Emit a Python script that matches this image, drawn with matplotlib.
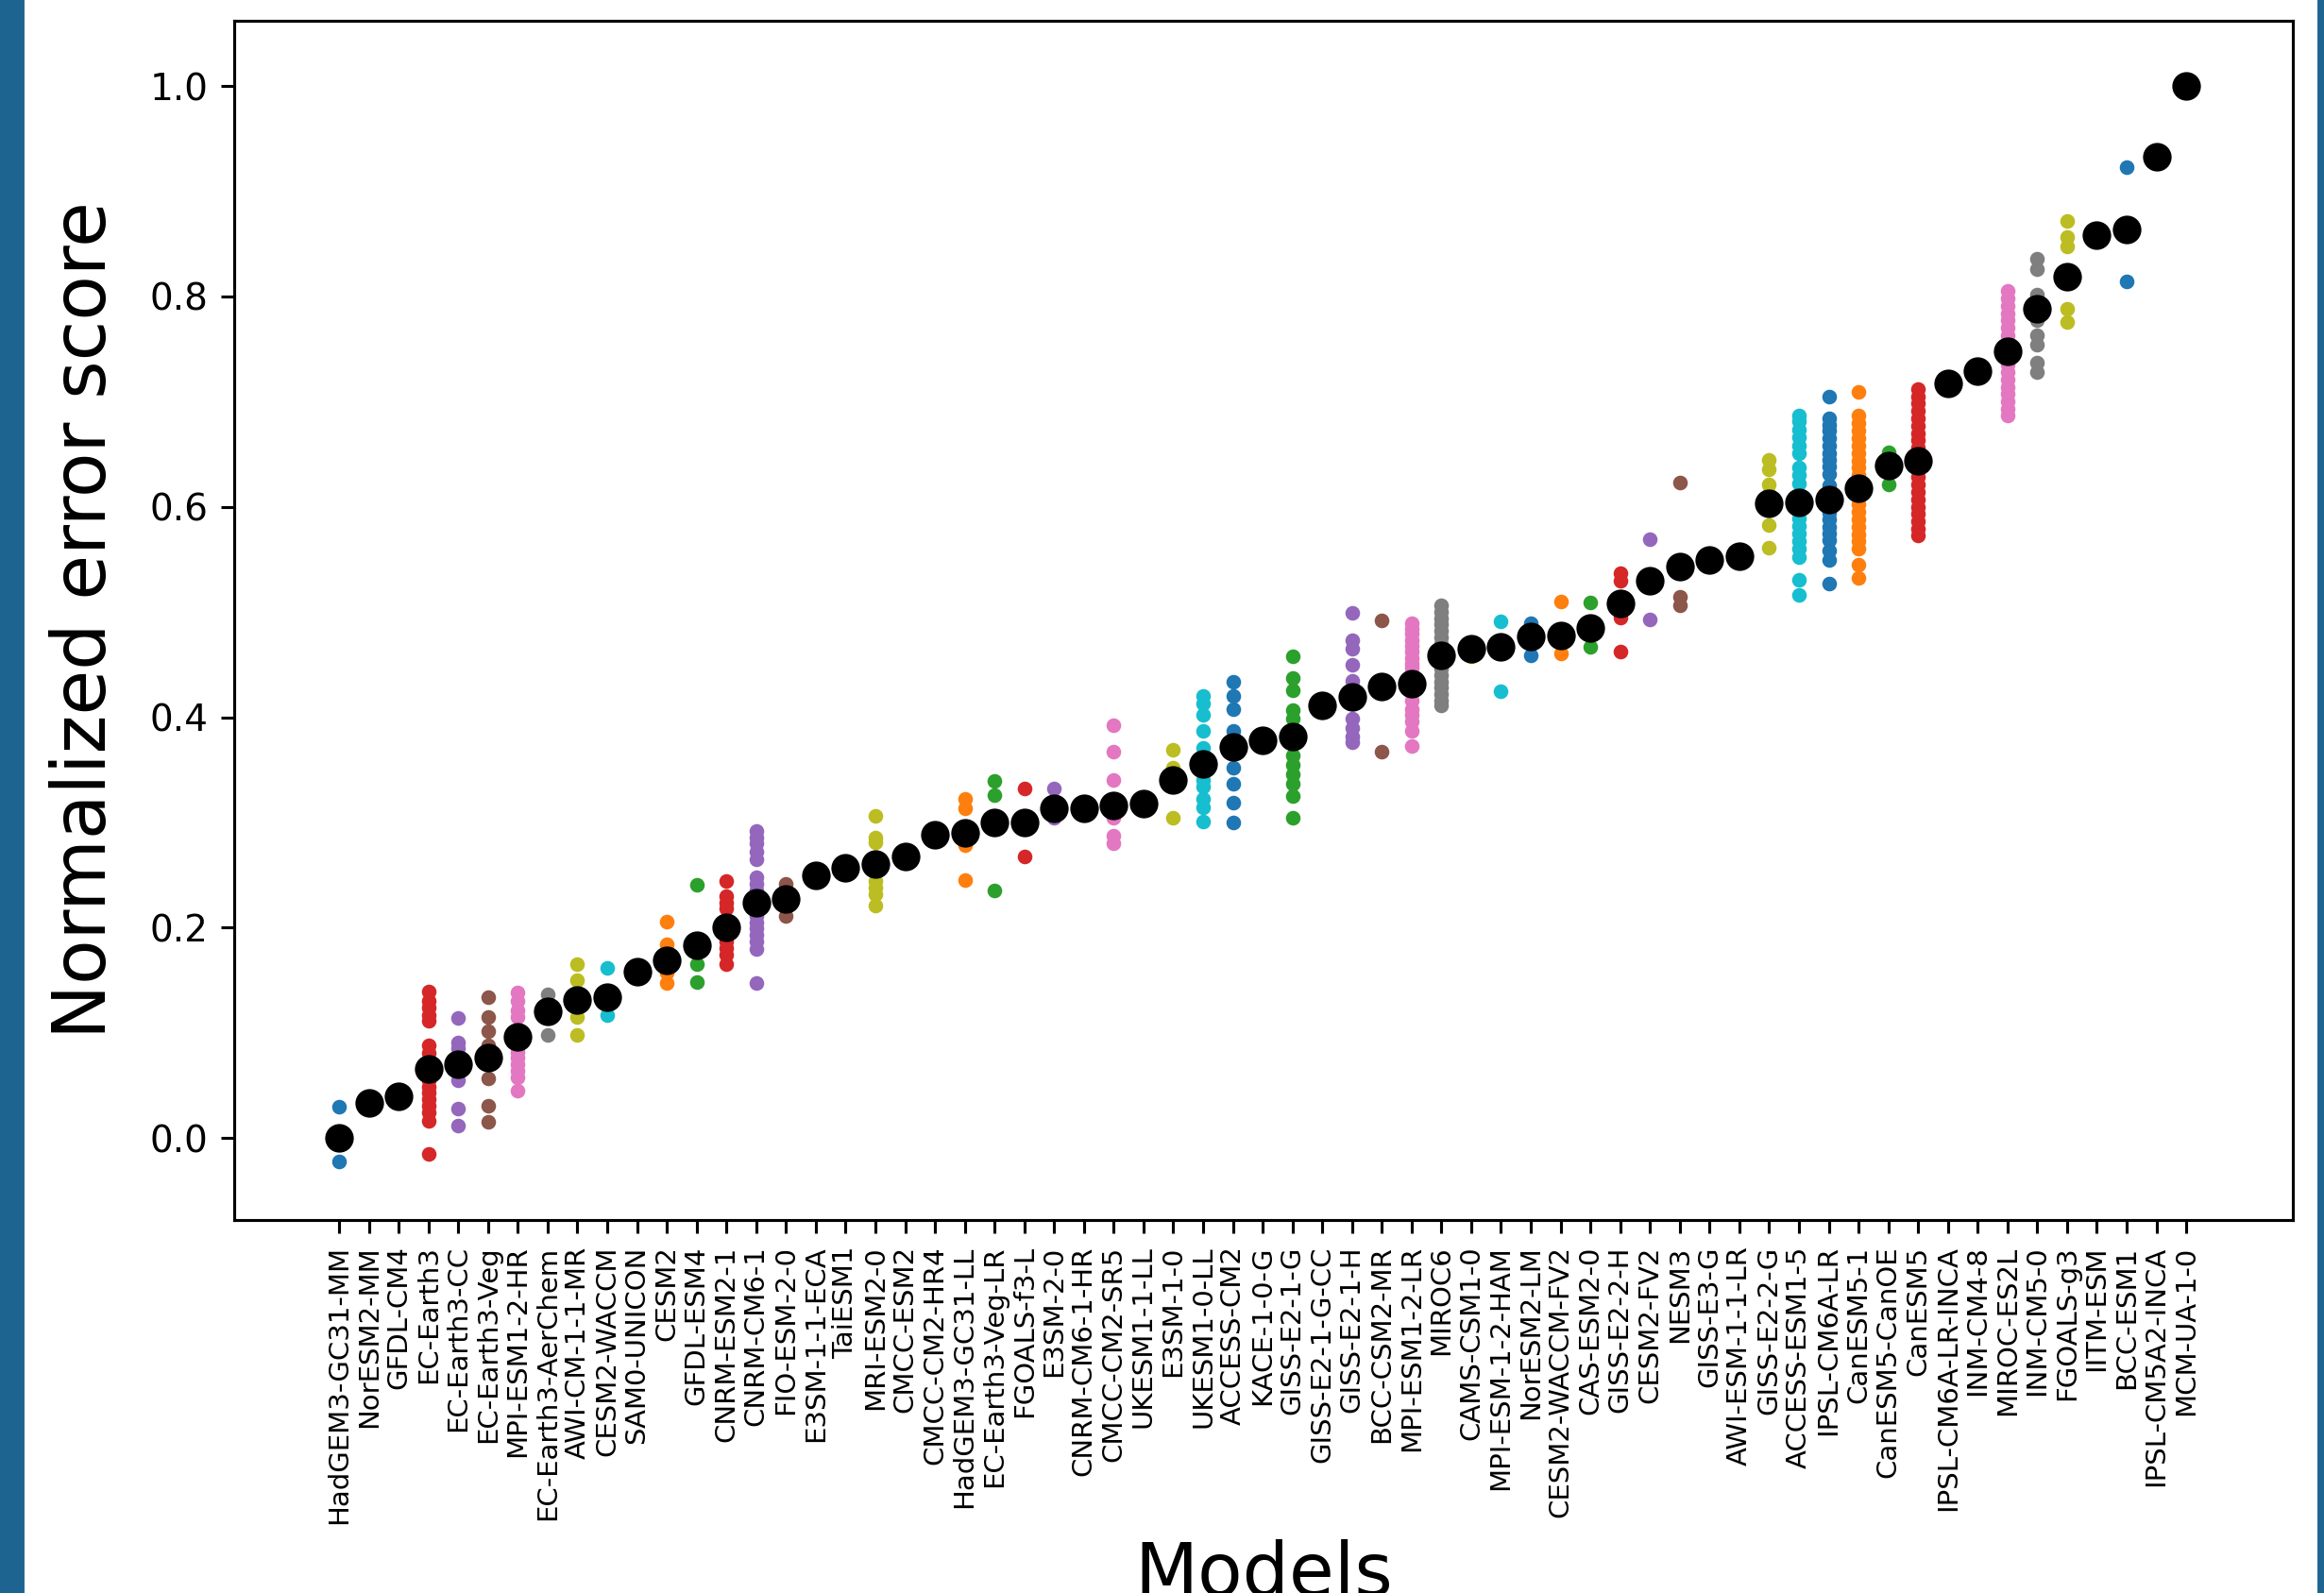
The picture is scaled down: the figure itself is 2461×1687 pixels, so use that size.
import matplotlib
matplotlib.use('Agg')
import matplotlib.pyplot as plt
from matplotlib.patches import Rectangle

models = ['HadGEM3-GC31-MM', 'NorESM2-MM', 'GFDL-CM4', 'EC-Earth3', 'EC-Earth3-CC',
          'EC-Earth3-Veg', 'MPI-ESM1-2-HR', 'EC-Earth3-AerChem', 'AWI-CM-1-1-MR',
          'CESM2-WACCM', 'SAM0-UNICON', 'CESM2', 'GFDL-ESM4', 'CNRM-ESM2-1',
          'CNRM-CM6-1', 'FIO-ESM-2-0', 'E3SM-1-1-ECA', 'TaiESM1', 'MRI-ESM2-0',
          'CMCC-ESM2', 'CMCC-CM2-HR4', 'HadGEM3-GC31-LL', 'EC-Earth3-Veg-LR',
          'FGOALS-f3-L', 'E3SM-2-0', 'CNRM-CM6-1-HR', 'CMCC-CM2-SR5', 'UKESM1-1-LL',
          'E3SM-1-0', 'UKESM1-0-LL', 'ACCESS-CM2', 'KACE-1-0-G', 'GISS-E2-1-G',
          'GISS-E2-1-G-CC', 'GISS-E2-1-H', 'BCC-CSM2-MR', 'MPI-ESM1-2-LR', 'MIROC6',
          'CAMS-CSM1-0', 'MPI-ESM-1-2-HAM', 'NorESM2-LM', 'CESM2-WACCM-FV2',
          'CAS-ESM2-0', 'GISS-E2-2-H', 'CESM2-FV2', 'NESM3', 'GISS-E3-G',
          'AWI-ESM-1-1-LR', 'GISS-E2-2-G', 'ACCESS-ESM1-5', 'IPSL-CM6A-LR',
          'CanESM5-1', 'CanESM5-CanOE', 'CanESM5', 'IPSL-CM6A-LR-INCA', 'INM-CM4-8',
          'MIROC-ES2L', 'INM-CM5-0', 'FGOALS-g3', 'IITM-ESM', 'BCC-ESM1',
          'IPSL-CM5A2-INCA', 'MCM-UA-1-0']

# ensemble mean (black dots)
means = [0.0, 0.033, 0.040, 0.066, 0.070, 0.076, 0.096, 0.120, 0.131, 0.134,
         0.158, 0.169, 0.183, 0.200, 0.224, 0.227, 0.250, 0.257, 0.260, 0.268,
         0.288, 0.290, 0.300, 0.300, 0.313, 0.313, 0.316, 0.318, 0.340, 0.356,
         0.372, 0.378, 0.382, 0.411, 0.419, 0.429, 0.432, 0.459, 0.465, 0.467,
         0.477, 0.478, 0.485, 0.508, 0.530, 0.543, 0.549, 0.553, 0.603, 0.604,
         0.607, 0.618, 0.639, 0.644, 0.717, 0.729, 0.748, 0.788, 0.819, 0.858,
         0.864, 0.933, 1.0]

# single members (coloured dots)
members = [
    [0.030, -0.022],
    [0.033],
    [0.040],
    [0.139, 0.130, 0.124, 0.117, 0.111, 0.088, 0.081, 0.067, 0.061, 0.055, 0.049,
     0.043, 0.037, 0.031, 0.024, 0.016, -0.015],
    [0.114, 0.091, 0.085, 0.078, 0.062, 0.055, 0.028, 0.012],
    [0.134, 0.115, 0.102, 0.088, 0.076, 0.057, 0.031, 0.015],
    [0.138, 0.130, 0.121, 0.115, 0.097, 0.082, 0.076, 0.070, 0.064, 0.058, 0.045],
    [0.137, 0.098],
    [0.165, 0.150, 0.125, 0.115, 0.098],
    [0.162, 0.117],
    [0.158],
    [0.206, 0.184, 0.178, 0.157, 0.147],
    [0.241, 0.165, 0.148],
    [0.244, 0.230, 0.224, 0.218, 0.193, 0.187, 0.181, 0.174, 0.165],
    [0.292, 0.286, 0.280, 0.272, 0.265, 0.248, 0.242, 0.235, 0.217, 0.211, 0.205,
     0.199, 0.193, 0.187, 0.180, 0.147],
    [0.242, 0.211],
    [0.250],
    [0.257],
    [0.306, 0.286, 0.281, 0.244, 0.238, 0.232, 0.221],
    [0.268],
    [0.288],
    [0.322, 0.313, 0.278, 0.245],
    [0.339, 0.326, 0.235],
    [0.332, 0.268],
    [0.332, 0.304],
    [0.313],
    [0.392, 0.367, 0.340, 0.304, 0.287, 0.280],
    [0.318],
    [0.369, 0.352, 0.304],
    [0.420, 0.413, 0.402, 0.387, 0.371, 0.364, 0.340, 0.334, 0.322, 0.314, 0.301],
    [0.434, 0.420, 0.408, 0.387, 0.380, 0.352, 0.337, 0.319, 0.300],
    [0.378],
    [0.458, 0.437, 0.426, 0.407, 0.399, 0.364, 0.355, 0.346, 0.337, 0.325, 0.304],
    [0.411],
    [0.499, 0.473, 0.465, 0.450, 0.435, 0.417, 0.399, 0.390, 0.382, 0.376],
    [0.492, 0.367],
    [0.489, 0.484, 0.479, 0.473, 0.468, 0.462, 0.456, 0.451, 0.447, 0.442, 0.438,
     0.430, 0.423, 0.416, 0.408, 0.402, 0.396, 0.387, 0.373],
    [0.506, 0.500, 0.494, 0.488, 0.482, 0.476, 0.470, 0.464, 0.458, 0.452, 0.446,
     0.440, 0.434, 0.428, 0.422, 0.416, 0.411],
    [0.465, 0.458],
    [0.491, 0.425],
    [0.489, 0.470, 0.459],
    [0.510, 0.461],
    [0.509, 0.467],
    [0.537, 0.530, 0.495, 0.462],
    [0.569, 0.493],
    [0.623, 0.514, 0.506],
    [0.549],
    [0.553],
    [0.645, 0.636, 0.621, 0.612, 0.583, 0.561],
    [0.687, 0.681, 0.673, 0.666, 0.658, 0.651, 0.637, 0.630, 0.622, 0.610, 0.597,
     0.589, 0.582, 0.575, 0.567, 0.560, 0.552, 0.531, 0.516],
    [0.705, 0.684, 0.678, 0.672, 0.665, 0.658, 0.651, 0.645, 0.638, 0.631, 0.620,
     0.613, 0.606, 0.600, 0.594, 0.588, 0.581, 0.575, 0.568, 0.558, 0.549, 0.527],
    [0.709, 0.687, 0.680, 0.672, 0.665, 0.658, 0.651, 0.644, 0.637, 0.630, 0.623,
     0.616, 0.609, 0.602, 0.595, 0.588, 0.581, 0.574, 0.567, 0.560, 0.545, 0.532],
    [0.652, 0.621],
    [0.712, 0.705, 0.698, 0.691, 0.684, 0.677, 0.670, 0.663, 0.656, 0.649, 0.642,
     0.635, 0.628, 0.621, 0.614, 0.607, 0.600, 0.593, 0.586, 0.579, 0.573],
    [0.717],
    [0.729],
    [0.805, 0.798, 0.791, 0.784, 0.777, 0.770, 0.763, 0.756, 0.749, 0.742, 0.735,
     0.728, 0.721, 0.714, 0.707, 0.700, 0.693, 0.687],
    [0.836, 0.826, 0.802, 0.777, 0.763, 0.754, 0.737, 0.728],
    [0.872, 0.856, 0.847, 0.788, 0.776],
    [0.858],
    [0.923, 0.814],
    [0.933],
    [1.0],
]

colors = plt.rcParams['axes.prop_cycle'].by_key()['color']

fig = plt.figure(figsize=(2461 / 280, 1687 / 280), dpi=280)
ax = fig.add_axes([0.1008, 0.2341, 0.8858, 0.7529])

for i, vals in enumerate(members):
    ax.scatter([i] * len(vals), vals, s=9, color=colors[i % 10], zorder=2)
ax.scatter(range(len(models)), means, s=46, color='black', zorder=3)

ax.set_xticks(range(len(models)))
ax.set_xticklabels(models, rotation=90, fontsize=7.5)
ax.tick_params(axis='y', labelsize=10)
ax.set_yticks([0.0, 0.2, 0.4, 0.6, 0.8, 1.0])
ax.set_xlim(-3.52, 65.58)
ax.set_ylim(-0.078, 1.062)
ax.set_xlabel('Models', fontsize=20)
ax.set_ylabel('Normalized error score', fontsize=20, labelpad=8)

# blue frame strips at the edges of the slide
fig.add_artist(Rectangle((0, 0), 24 / 2461, 1, transform=fig.transFigure,
                         color='#1d6491', zorder=0))
fig.add_artist(Rectangle((1 - 5 / 2461, 0), 5 / 2461, 1, transform=fig.transFigure,
                         color='#1d6491', zorder=0))

fig.savefig('out.png', dpi=280)
